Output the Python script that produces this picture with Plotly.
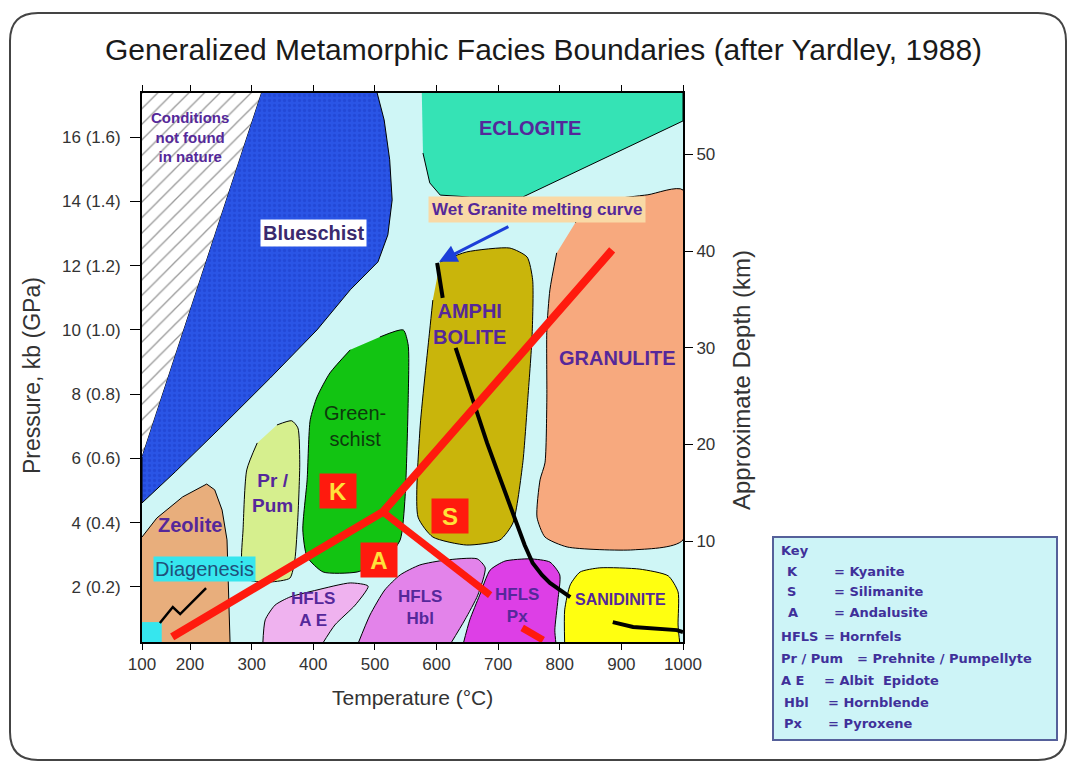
import plotly.graph_objects as go

# ---- axes (temperature in deg C, pressure in kbar, depth in km) ----
temp_tick_vals = [122, 200, 300, 400, 500, 600, 700, 800, 900, 1000]
temp_tick_text = ["100", "200", "300", "400", "500", "600", "700", "800", "900", "1000"]
press_tick_vals = [2, 4, 6, 8, 10, 12, 14, 16]
press_tick_text = ["2 (0.2)", "4 (0.4)", "6 (0.6)", "8 (0.8)", "10 (1.0)", "12 (1.2)", "14 (1.4)", "16 (1.6)"]
depth_tick_vals = [10, 20, 30, 40, 50]

# ---- facies fields (T, P outlines) ----
hatch_t = [122, 318, 122]
hatch_p = [17.5, 17.5, 6.04]

blueschist_t = [318, 502, 515, 524, 528, 521, 505, 460, 406, 330, 249, 176, 122, 122]
blueschist_p = [17.5, 17.5, 16.54, 15.30, 14.05, 12.96, 12.12, 11.25, 10.0, 8.50, 6.95, 5.58, 4.61, 6.04]

eclogite_t = [576, 1000, 1000, 740, 654, 606, 589, 578]
eclogite_p = [17.5, 17.5, 16.51, 14.14, 14.14, 14.2, 14.58, 15.51]

granulite_t = [825, 849, 881, 943, 1000, 1000, 919, 812, 776, 763, 768, 776, 779, 779, 784, 795]
granulite_p = [13.33, 13.80, 14.05, 14.21, 14.36, 3.46, 3.15, 3.24, 3.55, 4.17, 5.33, 5.86, 7.82, 10.0, 11.25, 12.40]

amphibolite_t = [606, 649, 719, 747, 756, 755, 748, 740, 724, 703, 649, 594, 570, 573, 589, 594]
amphibolite_p = [12.12, 12.43, 12.55, 12.27, 11.56, 9.78, 7.82, 5.86, 3.99, 3.46, 3.30, 3.55, 4.17, 6.88, 10.0, 10.93]

greenschist_t = [508, 546, 554, 554, 549, 541, 516, 471, 416, 390, 383, 390, 395, 406, 427, 460]
greenschist_p = [9.78, 10.0, 9.53, 7.82, 4.80, 3.46, 2.83, 2.46, 2.46, 2.93, 3.77, 5.33, 7.20, 7.91, 8.66, 9.38]

prpum_t = [341, 365, 375, 378, 375, 370, 362, 330, 297, 284, 286, 292, 309]
prpum_p = [7.04, 7.17, 6.95, 5.86, 4.17, 2.83, 2.27, 2.15, 2.21, 2.74, 3.77, 5.64, 6.48]

zeolite_t = [122, 146, 188, 227, 240, 252, 260, 262, 265, 122]
zeolite_p = [3.55, 4.14, 4.80, 5.20, 5.02, 4.39, 3.46, 2.21, 0.2, 0.2]

diagenesis_t = [122, 154, 154, 122]
diagenesis_p = [0.2, 0.2, 0.9, 0.9]

hfls_ae_t = [318, 322, 338, 362, 406, 460, 489, 468, 435, 414]
hfls_ae_p = [0.2, 0.97, 1.43, 1.68, 1.90, 2.12, 2.02, 1.43, 0.81, 0.2]

hfls_hbl_t = [472, 492, 516, 541, 573, 614, 666, 679, 667, 646, 622]
hfls_hbl_p = [0.2, 1.12, 1.90, 2.37, 2.68, 2.83, 2.87, 2.59, 1.74, 0.97, 0.2]

hfls_px_t = [643, 654, 670, 687, 711, 752, 784, 800, 797, 792, 794]
hfls_px_p = [0.2, 0.97, 1.74, 2.52, 2.80, 2.87, 2.77, 2.37, 1.59, 0.65, 0.2]

sanidinite_t = [808, 808, 817, 833, 865, 930, 976, 992, 992, 995]
sanidinite_p = [0.2, 1.28, 2.06, 2.46, 2.59, 2.55, 2.34, 1.84, 0.81, 0.2]

# ---- curves ----
wet_granite_t = [601, 610, None, 631, 648, 666, 682, 698, 714, 730, 743, 756, 771, 784, 800, 817]
wet_granite_p = [12.09, 11.0, None, 9.44, 8.44, 7.41, 6.48, 5.64, 4.80, 4.02, 3.30, 2.74, 2.37, 2.12, 1.90, 1.68]

sanid_curve_t = [886, 919, 990, 1000]
sanid_curve_p = [0.90, 0.75, 0.65, 0.59]

zigzag_t = [151, 172, 184, 226]
zigzag_p = [0.87, 1.37, 1.15, 1.96]

kyanite_t = [171, 513, 885]
kyanite_p = [0.44, 4.33, 12.49]
and_sil_t = [513, 687, None, 739, 773]
and_sil_p = [4.33, 1.74, None, 0.72, 0.34]

# ---- labels ----
label_text = ["Conditions<br>not found<br>in nature", "ECLOGITE", "GRANULITE", "AMPHI<br>BOLITE",
              "Zeolite", "Pr /<br>Pum", "HFLS<br>A E", "HFLS<br>Hbl", "HFLS<br>Px", "SANIDINITE"]
label_t = [200, 752, 893, 654, 200, 334, 399, 573, 730, 898]
label_p = [16.0, 16.29, 9.13, 10.19, 3.93, 4.92, 1.28, 1.34, 1.43, 1.59]
label_size = [15, 20, 20, 20, 20, 19, 17, 17, 17, 16]

mineral_text = ["K", "S", "A"]
mineral_t = [440, 622, 507]
mineral_p = [4.98, 4.21, 2.83]

key_symbols = ["K", "S", "A", "HFLS", "Pr / Pum", "A E", "Hbl", "Px"]
key_names = ["Kyanite", "Silimanite", "Andalusite", "Hornfels", "Prehnite / Pumpellyte",
             "Albit  Epidote", "Hornblende", "Pyroxene"]
key_sym_x = [785, 785, 786, 779, 779, 779, 782, 782]
key_name_x = [832, 832, 832, 822, 855, 822, 826, 826]
key_row_y = [571, 591, 612, 636, 658, 680, 702, 723]

PURPLE = "#55289a"


def px(x):
    return (x - 142) / 541


def py(y):
    return (642 - y) / 549


fig = go.Figure()


def field(t, p, color, smooth=False, pattern=None):
    fig.add_trace(go.Scatter(
        x=t, y=p, mode="lines", fill="toself", fillcolor=color,
        fillpattern=pattern,
        line=dict(color="black", width=1, shape="spline" if smooth else "linear", smoothing=0.6),
        hoverinfo="skip", showlegend=False))


field(hatch_t, hatch_p, "white",
      pattern=dict(shape="/", fgcolor="#333333", bgcolor="white", size=11, solidity=0.12))
field(blueschist_t, blueschist_p, "#2a55e6",
      pattern=dict(shape=".", fgcolor="#1b3ec8", bgcolor="#2a55e6", size=5, solidity=0.35))
field(eclogite_t, eclogite_p, "#35e3b5")
field(granulite_t, granulite_p, "#f7a97e", smooth=True)
field(amphibolite_t, amphibolite_p, "#c9b50b", smooth=True)
field(greenschist_t, greenschist_p, "#12c412", smooth=True)
field(prpum_t, prpum_p, "#d6ef8e", smooth=True)
field(zeolite_t, zeolite_p, "#e8ae7c")
field(hfls_ae_t, hfls_ae_p, "#efb2ef", smooth=True)
field(hfls_hbl_t, hfls_hbl_p, "#e383ea", smooth=True)
field(hfls_px_t, hfls_px_p, "#dd3fe6", smooth=True)
field(sanidinite_t, sanidinite_p, "#ffff10", smooth=True)
fig.add_trace(go.Scatter(x=diagenesis_t, y=diagenesis_p, fill="toself", fillcolor="#36e6ee",
                         mode="none", hoverinfo="skip", showlegend=False))

# curves
for t, p, c, w in [(wet_granite_t, wet_granite_p, "black", 4),
                   (sanid_curve_t, sanid_curve_p, "black", 4),
                   (zigzag_t, zigzag_p, "black", 2.5),
                   (kyanite_t, kyanite_p, "#ff1a0e", 8),
                   (and_sil_t, and_sil_p, "#ff1a0e", 7)]:
    fig.add_trace(go.Scatter(x=t, y=p, mode="lines", line=dict(color=c, width=w),
                             hoverinfo="skip", showlegend=False))

# dummy trace for the depth axis
fig.add_trace(go.Scatter(x=[None], y=[None], yaxis="y2", showlegend=False))

# facies labels
for txt, t, p, s in zip(label_text, label_t, label_p, label_size):
    fig.add_annotation(x=t, y=p, text=f"<b>{txt}</b>", showarrow=False,
                       font=dict(family="Arial", size=s, color=PURPLE))

fig.add_annotation(x=401, y=13.02, text="<b>Blueschist</b>", showarrow=False, bgcolor="white",
                   borderpad=2, font=dict(family="Arial", size=20, color="#3a2a6e"))
fig.add_annotation(x=468, y=7.01, text="Green-<br>schist", showarrow=False,
                   font=dict(family="Arial", size=20, color="#0d3a0d"))
fig.add_annotation(x=224, y=2.55, text="Diagenesis", showarrow=False, bgcolor="#36e6ee",
                   borderpad=1, font=dict(family="Arial", size=20, color="#20507a"))
fig.add_annotation(x=763, y=13.74, text="<b>Wet Granite melting curve</b>", showarrow=False,
                   bgcolor="#f9d9a6", borderpad=3, font=dict(family="Arial", size=17, color=PURPLE))
fig.add_annotation(x=604, y=12.12, ax=719, ay=13.24, axref="x", ayref="y", text="",
                   showarrow=True, arrowhead=2, arrowsize=1.2, arrowwidth=3, arrowcolor="#1c3fd8")

for txt, t, p in zip(mineral_text, mineral_t, mineral_p):
    fig.add_annotation(x=t, y=p, text=f"<b>{txt}</b>", showarrow=False, bgcolor="#ff1a0e",
                       width=34, height=32, font=dict(family="Arial", size=24, color="#ffe23a"))

# key box
fig.add_shape(type="rect", xref="paper", yref="paper", x0=px(773), x1=px(1057), y0=py(740), y1=py(537),
              fillcolor="#cdf4f7", line=dict(color="#55609a", width=2))
keyfont = dict(family="DejaVu Sans", size=13, color="#40309a")
fig.add_annotation(xref="paper", yref="paper", x=px(779), y=py(550), xanchor="left", yanchor="middle",
                   text="<b>Key</b>", showarrow=False, font=keyfont)
for sym, name, sx, nx, ry in zip(key_symbols, key_names, key_sym_x, key_name_x, key_row_y):
    fig.add_annotation(xref="paper", yref="paper", x=px(sx), y=py(ry), xanchor="left", yanchor="middle",
                       text=f"<b>{sym}</b>", showarrow=False, font=keyfont)
    fig.add_annotation(xref="paper", yref="paper", x=px(nx), y=py(ry), xanchor="left", yanchor="middle",
                       text=f"<b>= {name}</b>", showarrow=False, font=keyfont)

# rounded outer frame
L, R, T, B, r = 10, 1066, 13, 760, 28
frame = (f"M {px(L + r)},{py(T)} L {px(R - r)},{py(T)} Q {px(R)},{py(T)} {px(R)},{py(T + r)} "
         f"L {px(R)},{py(B - r)} Q {px(R)},{py(B)} {px(R - r)},{py(B)} L {px(L + r)},{py(B)} "
         f"Q {px(L)},{py(B)} {px(L)},{py(B - r)} L {px(L)},{py(T + r)} Q {px(L)},{py(T)} {px(L + r)},{py(T)} Z")
fig.add_shape(type="path", xref="paper", yref="paper", path=frame, line=dict(color="#444444", width=2))

# titles
fig.add_annotation(xref="paper", yref="paper", x=px(543), y=py(50), xanchor="center", yanchor="middle",
                   text="Generalized Metamorphic Facies Boundaries (after Yardley, 1988)",
                   showarrow=False, font=dict(family="Arial", size=30, color="#1a1a1a"))
fig.add_annotation(xref="paper", yref="paper", x=px(412), y=py(697), xanchor="center", yanchor="middle",
                   text="Temperature (°C)", showarrow=False,
                   font=dict(family="Arial", size=21, color="#333333"))
fig.add_annotation(xref="paper", yref="paper", x=px(32), y=py(376), xanchor="center", yanchor="middle",
                   text="Pressure, kb (GPa)", textangle=-90, showarrow=False,
                   font=dict(family="Arial", size=23, color="#333333"))
fig.add_annotation(xref="paper", yref="paper", x=px(741), y=py(380), xanchor="center", yanchor="middle",
                   text="Approximate Depth (km)", textangle=-90, showarrow=False,
                   font=dict(family="Arial", size=24, color="#333333"))

tickfont = dict(family="Arial", size=17, color="#333333")
fig.update_layout(
    width=1076, height=765, autosize=False,
    margin=dict(l=142, r=393, t=93, b=123),
    paper_bgcolor="white", plot_bgcolor="#cff6f6",
    showlegend=False,
    xaxis=dict(range=[122, 1000], tickvals=temp_tick_vals, ticktext=temp_tick_text,
               showgrid=False, zeroline=False, showline=True, linecolor="black", linewidth=2,
               mirror="ticks", ticks="outside", ticklen=6, tickcolor="black", tickfont=tickfont),
    yaxis=dict(range=[0.28, 17.38], tickvals=press_tick_vals, ticktext=press_tick_text,
               showgrid=False, zeroline=False, showline=True, linecolor="black", linewidth=2,
               ticks="outside", ticklen=10, tickcolor="black", tickfont=tickfont,
               ticklabelstandoff=6),
    yaxis2=dict(range=[-0.41, 56.33], tickvals=depth_tick_vals, overlaying="y", side="right", anchor="x",
                showgrid=False, zeroline=False, showline=True, linecolor="black", linewidth=2,
                ticks="outside", ticklen=8, tickcolor="black", tickfont=tickfont),
)

fig.write_html("out.html", config={"displayModeBar": False},
               post_script="document.body.style.margin='0px';"
                           "document.body.style.overflow='hidden';")
